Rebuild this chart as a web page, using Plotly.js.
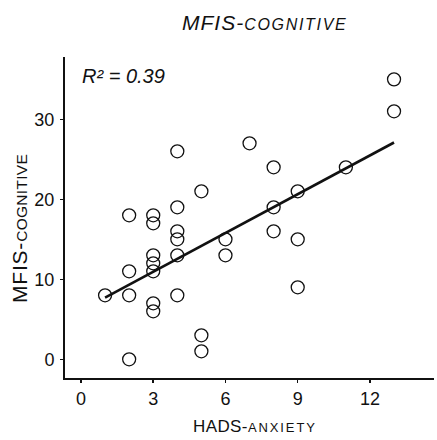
<!DOCTYPE html>
<html>
<head>
<meta charset="utf-8">
<script src="https://cdn.plot.ly/plotly-3.0.1.min.js"></script>
<style>html,body{margin:0;padding:0;background:#fff;}#chart{width:437px;height:440px;}</style>
</head>
<body>
<div id="chart"></div>
<script>
var hadsAnxiety = [13,13,7,4,8,11,9,5,8,4,2,3,3,4,4,8,9,6,6,3,4,3,3,2,1,2,4,3,3,9,5,5,2];
var mfisCognitive = [35,31,27,26,24,24,21,21,19,19,18,18,17,16,15,16,15,15,13,13,13,12,11,11,8,8,8,7,6,9,3,1,0];
var fitX = [1,13];
var fitY = [7.7,27.1];
var xTicks = [0,3,6,9,12];
var yTicks = [0,10,20,30];
var rSquaredText = 'R² = 0.39';

var font = 'Liberation Sans, Arial, sans-serif';

function smallCaps(big, small, bigSize, smallSize, bigSpacing, smallSpacing) {
  return '<span style="font-size:' + bigSize + 'px;letter-spacing:' + bigSpacing + 'px">' + big + '</span>' +
         '<span style="font-size:' + smallSize + 'px;letter-spacing:' + smallSpacing + 'px">' + small.toUpperCase() + '</span>';
}

var traces = [
  {x: fitX, y: fitY, type: 'scatter', mode: 'lines',
   line: {color: '#111', width: 2.6}, hoverinfo: 'skip', showlegend: false},
  {x: hadsAnxiety, y: mfisCognitive, type: 'scatter', mode: 'markers',
   marker: {symbol: 'circle-open', size: 13, color: '#111', line: {width: 1.3, color: '#111'}},
   showlegend: false}
];

var layout = {
  width: 437, height: 440,
  margin: {l: 65, r: 3, t: 57, b: 62, pad: 0},
  paper_bgcolor: '#fff', plot_bgcolor: '#fff',
  font: {family: font, color: '#111'},
  xaxis: {
    range: [-0.664, 14.66], tickvals: xTicks, ticktext: xTicks.map(String),
    showgrid: false, zeroline: false, showline: true, linecolor: '#111', linewidth: 2,
    ticks: 'outside', ticklen: 3, tickwidth: 1.5, tickcolor: '#111',
    tickfont: {size: 18, family: font, color: '#111'}, ticklabelstandoff: 0
  },
  yaxis: {
    range: [-2.34, 37.79], tickvals: yTicks, ticktext: yTicks.map(String),
    showgrid: false, zeroline: false, showline: true, linecolor: '#111', linewidth: 2,
    ticks: 'outside', ticklen: 3, tickwidth: 1.5, tickcolor: '#111',
    tickfont: {size: 18, family: font, color: '#111'}, ticklabelstandoff: 2
  },
  annotations: [
    {text: smallCaps('MFIS-', 'cognitive', 21, 16, 1, 1.7), xref: 'paper', yref: 'paper',
     x: (264-65)/369, y: 1 + (57-22)/321,
     xanchor: 'center', yanchor: 'middle', showarrow: false,
     font: {size: 21, family: font, style: 'italic', color: '#111'}},
    {text: rSquaredText, xref: 'paper', yref: 'paper', x: (80-65)/369, y: 1 - (76-57)/321,
     xanchor: 'left', yanchor: 'middle', showarrow: false,
     font: {size: 20, family: font, style: 'italic', color: '#111'}},
    {text: smallCaps('HADS-', 'anxiety', 17, 13, 0.4, 1.9), xref: 'paper', yref: 'paper',
     x: (255-65)/369, y: -(426-378)/321,
     xanchor: 'center', yanchor: 'middle', showarrow: false,
     font: {size: 17, family: font, color: '#111'}},
    {text: smallCaps('MFIS-', 'cognitive', 21, 15.5, 0.8, 0.3), xref: 'paper', yref: 'paper',
     x: -(65-20)/369, y: 1 - (229-57)/321,
     xanchor: 'center', yanchor: 'middle', showarrow: false, textangle: -90,
     font: {size: 21, family: font, color: '#111'}}
  ]
};

Plotly.newPlot('chart', traces, layout, {displayModeBar: false, staticPlot: true});
</script>
</body>
</html>
